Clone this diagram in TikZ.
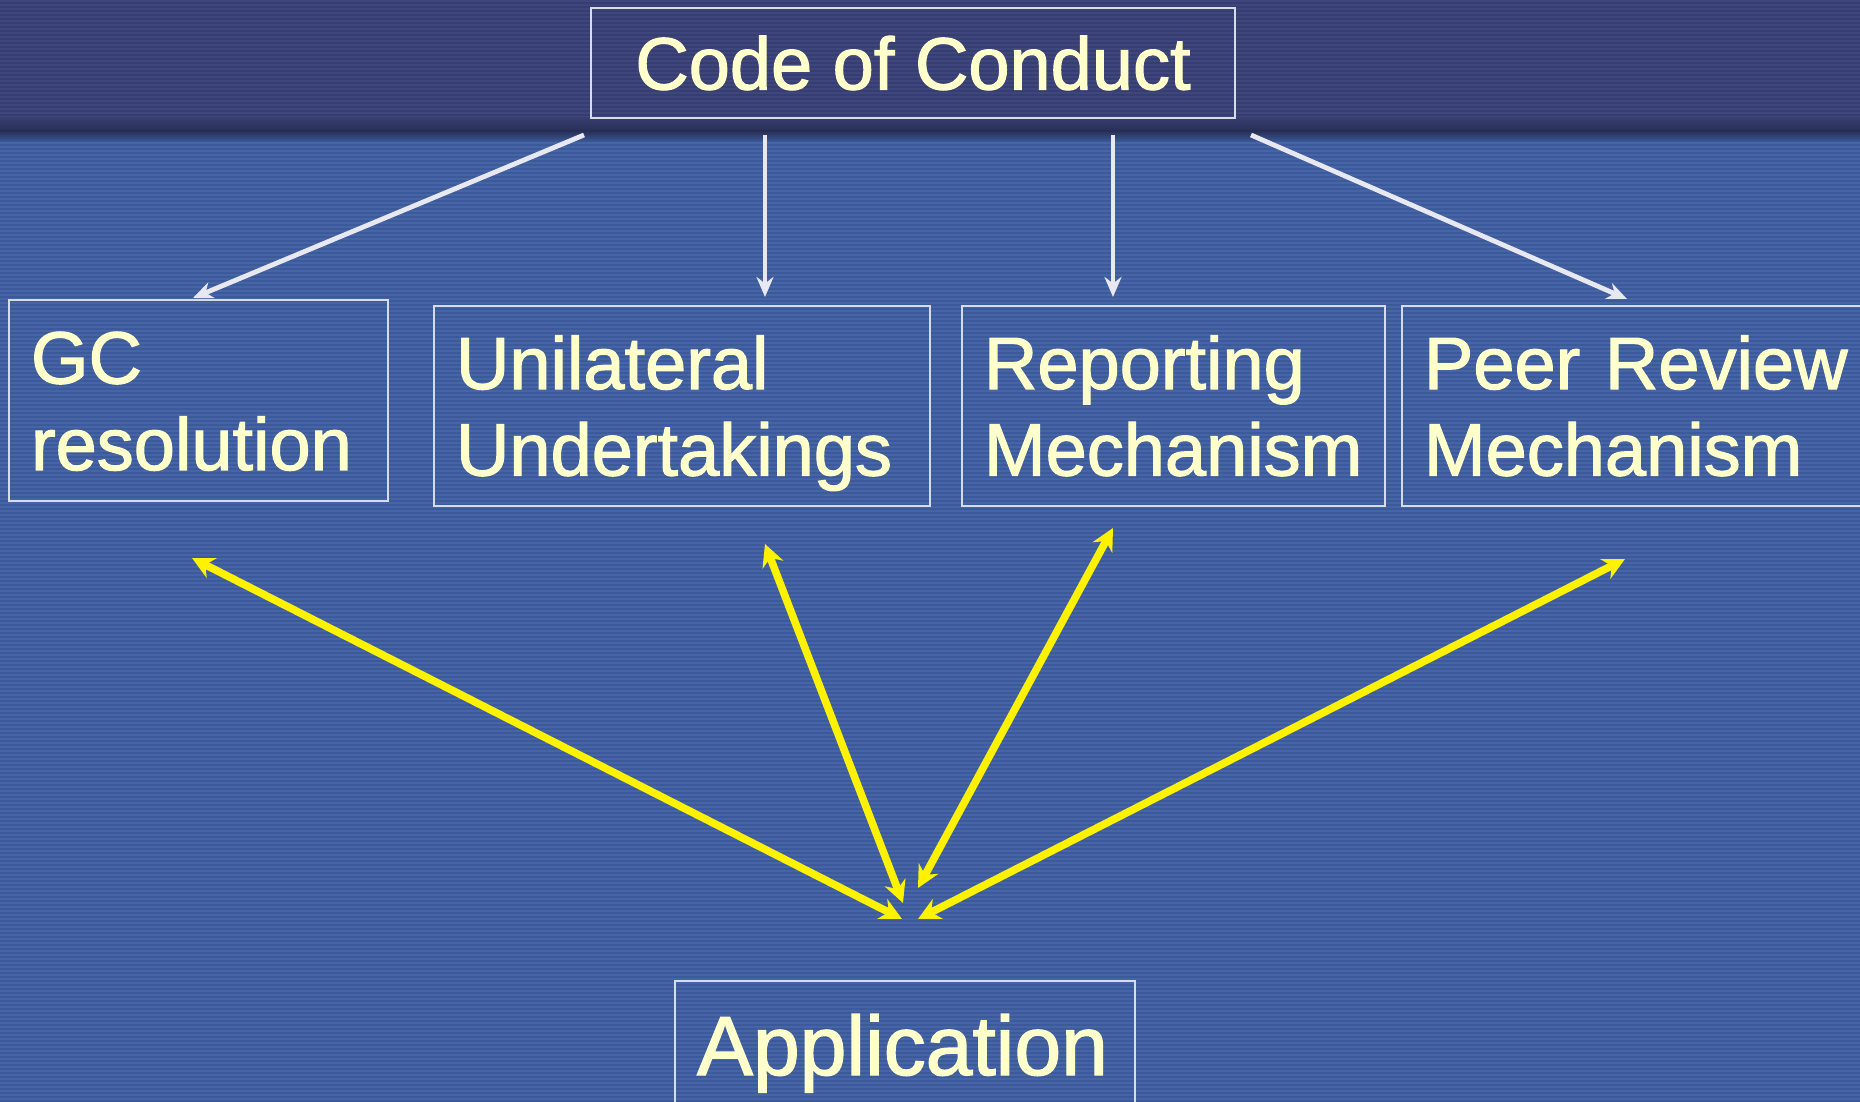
\documentclass[tikz,border=0pt]{standalone}
\usepackage{fontspec}
\setmainfont{Liberation Sans}[FakeBold=1.6]
\usetikzlibrary{arrows.meta,calc}

\definecolor{bgmain}{RGB}{60,90,154}
\definecolor{bgstripe}{RGB}{70,101,167}
\definecolor{bgtop}{RGB}{54,61,112}
\definecolor{bgtopstripe}{RGB}{62,70,124}
\definecolor{bgdark}{RGB}{40,47,86}
\definecolor{boxline}{RGB}{216,220,232}
\definecolor{textyellow}{RGB}{255,255,204}
\definecolor{arrowwhite}{RGB}{232,232,240}

\begin{document}
\begin{tikzpicture}[x=0.5pt,y=-0.5pt]

\tikzstyle{cell} = [rectangle, draw=boxline, line width=1pt, text=textyellow, anchor=north west, inner xsep=11pt, inner ysep=2pt, align=left, minimum height=100pt, text height=35pt, text depth=52pt, font=\fontsize{37pt}{43.25pt}\selectfont]
\tikzstyle{title} = [rectangle, draw=boxline, line width=1pt, text=textyellow, anchor=north west, inner sep=2pt]
\tikzstyle{arrow} = [line width=2.4pt, draw=arrowwhite, -{Stealth[length=10pt,width=8.5pt]}]
\tikzstyle{link} = [line width=3.8pt, draw=yellow, {Stealth[length=11pt,width=11pt]}-{Stealth[length=11pt,width=11pt]}]

\clip (0,0) rectangle (1860,1102);

%% ----------------
%% -- BACKGROUND --
%% ----------------

\fill[bgmain] (0,0) rectangle (1860,1102);
\foreach \y in {138,142,...,1102} \fill[bgstripe] (0,\y) rectangle (1860,\y+2);
\fill[bgtop] (0,0) rectangle (1860,124);
\foreach \y in {0,4,...,120} \fill[bgtopstripe] (0,\y) rectangle (1860,\y+2);
\shade[top color=bgtop, bottom color=bgdark] (0,118) rectangle (1860,131);
\shade[top color=bgdark, bottom color=bgmain] (0,131) rectangle (1860,142);

%% -----------
%% -- BOXES --
%% -----------

% TOP
\node (code) [title, minimum width=322pt, minimum height=55pt, font=\fontsize{37pt}{43.25pt}\selectfont] at (590,7) {Code of Conduct};

% MIDDLE ROW
\node (gc_res) [cell, minimum width=189.5pt, text width=167.5pt, minimum height=100.5pt] at (8,299) {GC\\resolution};
\node (unilateral) [cell, minimum width=248pt, text width=226pt] at (433,305) {Unilateral\\Undertakings};
\node (reporting) [cell, minimum width=211.5pt, text width=189.5pt] at (961,305) {Reporting\\Mechanism};
\node (peer_review) [cell, minimum width=240pt, text width=218pt] at (1401,305) {Peer Review\\Mechanism};

% BOTTOM
\node (application) [title, minimum width=230pt, minimum height=72.3pt, inner xsep=11pt, align=left, text width=208pt, font=\fontsize{42pt}{48pt}\selectfont] at (674,980) {Application};

%% ------------
%% -- ARROWS --
%% ------------

\draw [arrow] ($(code.south west)+(-6,16)$) -- ($(gc_res.north west)+(185,-1)$);
\draw [arrow] ($(code.south west)+(175,16)$) -- ($(unilateral.north west)+(332,-8)$);
\draw [arrow] ($(code.south west)+(523,16)$) -- ($(reporting.north west)+(152,-8)$);
\draw [arrow] ($(code.south east)+(15,16)$) -- ($(peer_review.north west)+(226,-6)$);

\draw [link] ($(gc_res.south west)+(184,56)$) -- ($(application.north)+(-3,-61)$);
\draw [link] ($(unilateral.south west)+(332,37)$) -- ($(application.north)+(-2,-77)$);
\draw [link] ($(reporting.south west)+(152,21)$) -- ($(application.north)+(13,-92)$);
\draw [link] ($(peer_review.south west)+(224,52)$) -- ($(application.north)+(13,-61)$);

\end{tikzpicture}
\end{document}
